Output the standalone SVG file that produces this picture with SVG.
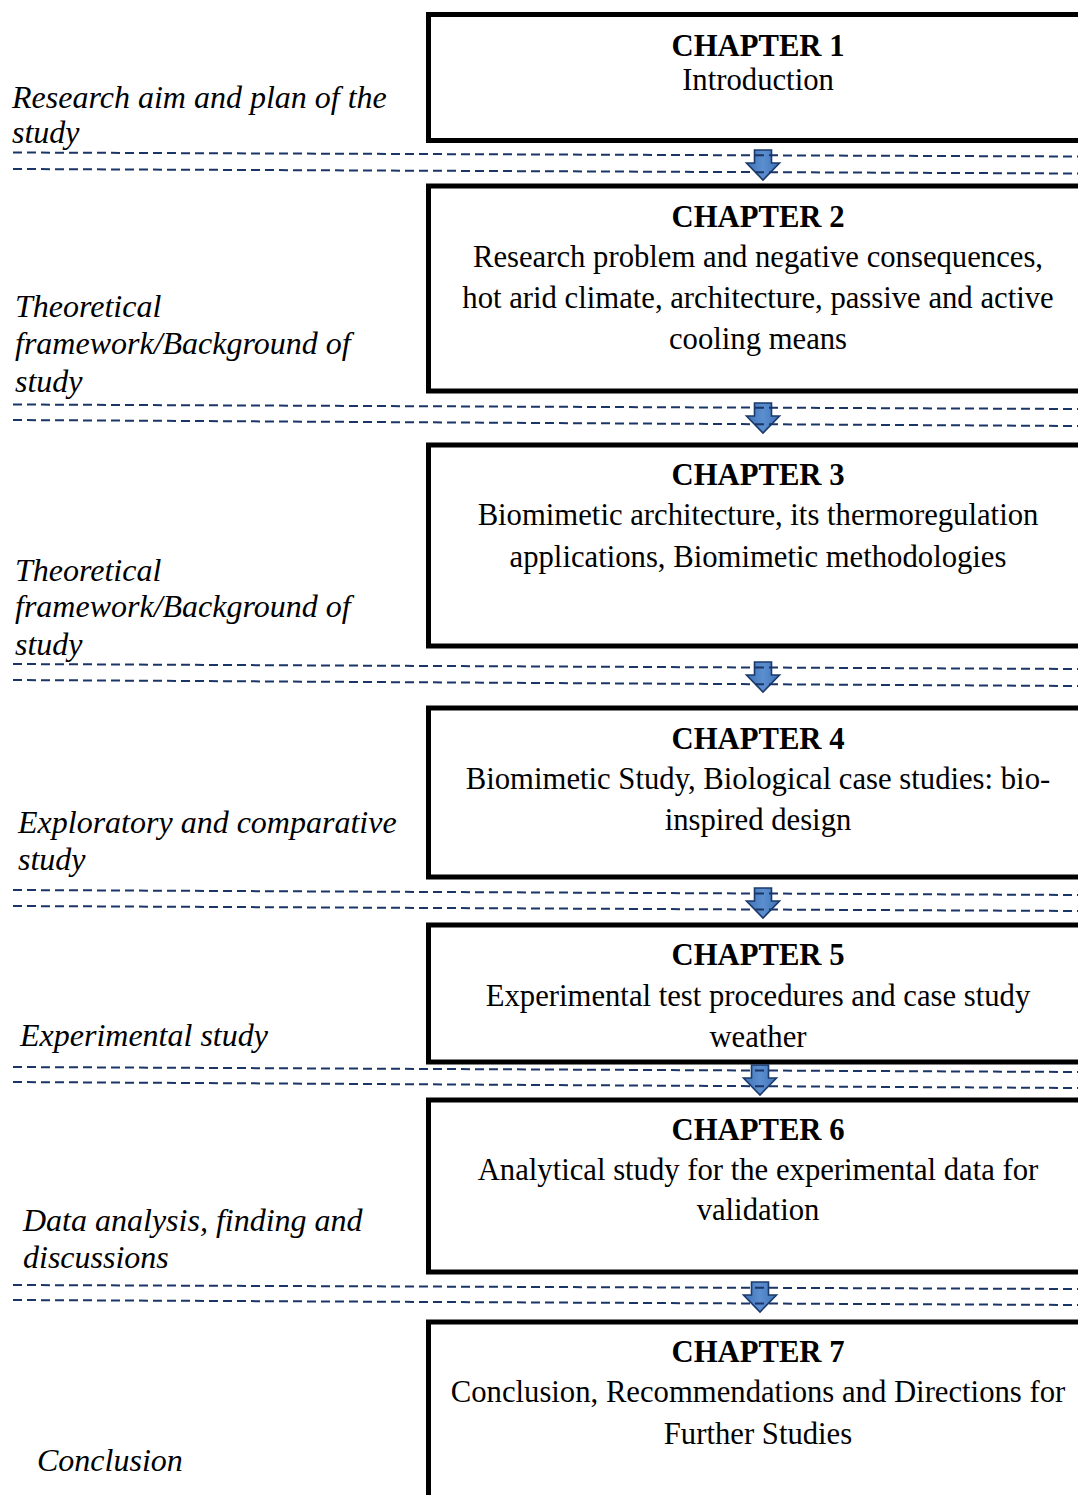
<svg xmlns="http://www.w3.org/2000/svg" width="1078" height="1495" viewBox="0 0 1078 1495">
<style>
.box{fill:#fff;stroke:#000;stroke-width:5}
.t{font-family:"Liberation Serif","Times New Roman",serif;font-size:30.7px;fill:#000;text-anchor:middle}
.tb{font-weight:bold}
.lab{font-family:"Liberation Serif","Times New Roman",serif;font-size:32px;font-style:italic;fill:#000}
.dash{stroke:#1a3566;stroke-width:2;stroke-dasharray:9 5;fill:none}
.arr{fill:url(#ag);stroke:#1b3a6b;stroke-width:1.6;stroke-linejoin:miter}
</style>
<defs>
<linearGradient id="ag" x1="0" y1="0" x2="1" y2="0">
<stop offset="0" stop-color="#3f72b5"/>
<stop offset="0.5" stop-color="#5b8fd0"/>
<stop offset="1" stop-color="#3f72b5"/>
</linearGradient>
<path id="arrow" class="arr" d="M-8.5,0 H8.5 V13 H16.5 L0,30 L-16.5,13 H-8.5 Z"/>
</defs>
<rect width="1078" height="1495" fill="#fff"/>

<g id="ch1">
<rect class="box" x="428.5" y="14.5" width="700" height="126"/>
<text class="t tb" x="758" y="56">CHAPTER 1</text>
<text class="t" x="758" y="90">Introduction</text>
</g>
<g id="ch2">
<rect class="box" x="428.5" y="186" width="700" height="205"/>
<text class="t tb" x="758" y="227">CHAPTER 2</text>
<text class="t" x="758" y="267">Research problem and negative consequences,</text>
<text class="t" x="758" y="308">hot arid climate, architecture, passive and active</text>
<text class="t" x="758" y="349">cooling means</text>
</g>
<g id="ch3">
<rect class="box" x="428.5" y="445" width="700" height="201"/>
<text class="t tb" x="758" y="485">CHAPTER 3</text>
<text class="t" x="758" y="525">Biomimetic architecture, its thermoregulation</text>
<text class="t" x="758" y="567">applications, Biomimetic methodologies</text>
</g>
<g id="ch4">
<rect class="box" x="428.5" y="708" width="700" height="169"/>
<text class="t tb" x="758" y="749">CHAPTER 4</text>
<text class="t" x="758" y="789">Biomimetic Study, Biological case studies: bio-</text>
<text class="t" x="758" y="830">inspired design</text>
</g>
<g id="ch5">
<rect class="box" x="428.5" y="925" width="700" height="137"/>
<text class="t tb" x="758" y="965">CHAPTER 5</text>
<text class="t" x="758" y="1006">Experimental test procedures and case study</text>
<text class="t" x="758" y="1047">weather</text>
</g>
<g id="ch6">
<rect class="box" x="428.5" y="1100" width="700" height="172"/>
<text class="t tb" x="758" y="1140">CHAPTER 6</text>
<text class="t" x="758" y="1180">Analytical study for the experimental data for</text>
<text class="t" x="758" y="1220">validation</text>
</g>
<g id="ch7">
<rect class="box" x="428.5" y="1322" width="700" height="250"/>
<text class="t tb" x="758" y="1362">CHAPTER 7</text>
<text class="t" x="758" y="1402">Conclusion, Recommendations and Directions for</text>
<text class="t" x="758" y="1444">Further Studies</text>
</g>

<g id="label1"><text class="lab" x="12" y="108">Research aim and plan of the</text><text class="lab" x="12" y="143">study</text></g>
<g id="label2"><text class="lab" x="15" y="317">Theoretical</text><text class="lab" x="15" y="354">framework/Background of</text><text class="lab" x="15" y="392">study</text></g>
<g id="label3"><text class="lab" x="15" y="581">Theoretical</text><text class="lab" x="15" y="617">framework/Background of</text><text class="lab" x="15" y="655">study</text></g>
<g id="label4"><text class="lab" x="18" y="833">Exploratory and comparative</text><text class="lab" x="18" y="870">study</text></g>
<g id="label5"><text class="lab" x="20" y="1046">Experimental study</text></g>
<g id="label6"><text class="lab" x="23" y="1231">Data analysis, finding and</text><text class="lab" x="23" y="1268">discussions</text></g>
<g id="label7"><text class="lab" x="37" y="1471">Conclusion</text></g>

<g id="connectors">
<use href="#arrow" x="763" y="150"/>
<use href="#arrow" x="763" y="403"/>
<use href="#arrow" x="763" y="662"/>
<use href="#arrow" x="763" y="888"/>
<use href="#arrow" x="760" y="1065"/>
<use href="#arrow" x="760" y="1282"/>
<line class="dash" x1="13" y1="152.5" x2="1078" y2="156.5"/>
<line class="dash" x1="13" y1="169" x2="1078" y2="173.5"/>
<line class="dash" x1="13" y1="404.5" x2="1078" y2="409"/>
<line class="dash" x1="13" y1="420" x2="1078" y2="426"/>
<line class="dash" x1="13" y1="664" x2="1078" y2="669"/>
<line class="dash" x1="13" y1="680" x2="1078" y2="686"/>
<line class="dash" x1="13" y1="890" x2="1078" y2="895"/>
<line class="dash" x1="13" y1="906" x2="1078" y2="911"/>
<line class="dash" x1="13" y1="1067" x2="1078" y2="1072"/>
<line class="dash" x1="13" y1="1082" x2="1078" y2="1088"/>
<line class="dash" x1="13" y1="1285" x2="1078" y2="1289"/>
<line class="dash" x1="13" y1="1300" x2="1078" y2="1305"/>
</g>
</svg>
